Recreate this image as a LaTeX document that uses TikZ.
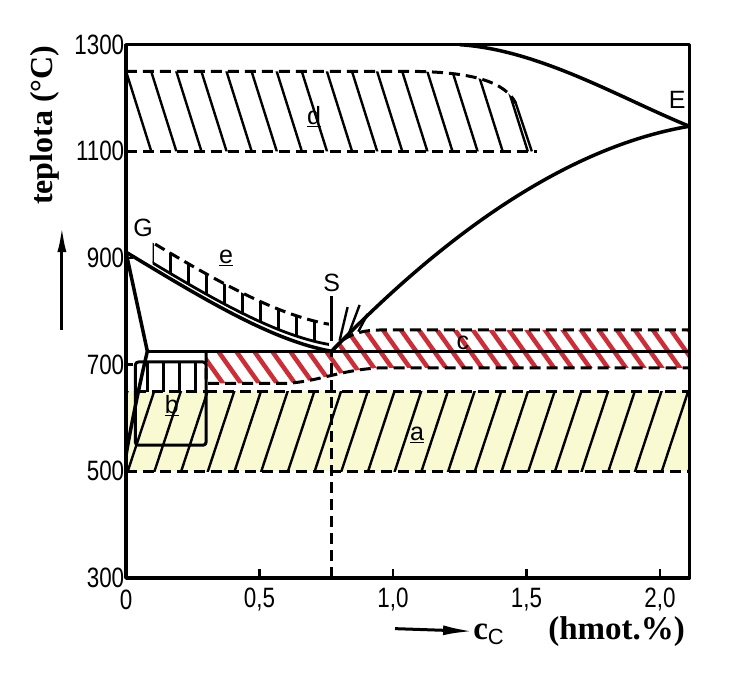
\documentclass[tikz,border=0pt]{standalone}
\usepackage{fontspec}
\setmainfont{Liberation Serif}
\setsansfont{Liberation Sans}
\usepackage{graphicx}
\usetikzlibrary{arrows.meta}

\definecolor{hatchred}{RGB}{205,45,55}
\definecolor{zoneyellow}{RGB}{250,250,210}
\newcommand{\narrownum}[1]{\scalebox{0.8}[1]{#1}}

\begin{document}
\begin{tikzpicture}[
    x = 267pt,
    y = 0.5333pt,
    line join = round,
    axisline/.style = {
        line width = 3.5pt
    },
    phaseline/.style = {
        line width = 3.5pt
    },
    zoneedge/.style = {
        dash pattern = on 11pt off 6pt,
        line width = 3pt
    },
    hatchline/.style = {
        line width = 2.4pt
    },
    redhatch/.style = {
        line width = 4.5pt,
        draw = hatchred
    },
    ticklabel/.style = {
        font = \sffamily\fontsize{28}{28}\selectfont,
        inner sep = 0pt
    },
    pointlabel/.style = {
        font = \sffamily\fontsize{25}{25}\selectfont,
        inner sep = 1pt
    },
    axislabel/.style = {
        font = \bfseries\fontsize{32}{32}\selectfont,
        inner sep = 0pt
    },
    axisarrow/.style = {
        -{Latex[length = 30pt, width = 10pt]},
        line width = 3pt
    }
]
    \useasboundingbox (-0.4719,84.4) rectangle (2.3221,1383.8);

    % zone a (yellow band)
    \fill [zoneyellow] (0,500) rectangle (2.11,650);
    \begin{scope}
        \clip (0,500) rectangle (2.11,650);
        \foreach \xa in {-0.1,0.0,...,2.2}
            \draw [hatchline] (\xa,490) -- ++(0.112,170);
    \end{scope}
    \draw [zoneedge] (0,500) -- (2.11,500);
    \draw [zoneedge] (0.30,650) -- (2.11,650);

    % zone c (red band)
    \begin{scope}
        \clip (0.30,665) -- (0.60,665) .. controls (0.72,668) and (0.80,690) .. (0.95,694)
            -- (2.11,694) -- (2.11,765) -- (0.95,765)
            .. controls (0.85,765) and (0.80,745) .. (0.77,725) -- (0.30,725) -- cycle;
        \foreach \xc in {0.2,0.2674,...,2.2}
            \draw [redhatch] (\xc,780) -- ++(0.213,-150);
    \end{scope}
    \draw [zoneedge] (0.30,725) -- (0.30,665) -- (0.60,665)
        .. controls (0.72,668) and (0.80,690) .. (0.95,694) -- (2.11,694);
    \draw [zoneedge] (0.77,725) .. controls (0.80,745) and (0.85,765) .. (0.95,765) -- (2.11,765);

    % zone d
    \begin{scope}
        \clip (0,1100) -- (0,1250) -- (1.05,1250)
            .. controls (1.30,1250) and (1.42,1230) .. (1.46,1190) -- (1.52,1100) -- cycle;
        \foreach \xd in {-0.1,-0.006,...,1.6}
            \draw [hatchline] (\xd,1260) -- ++(0.107,-170);
    \end{scope}
    \draw [zoneedge] (0,1250) -- (1.05,1250) .. controls (1.30,1250) and (1.42,1230) .. (1.46,1190);
    \draw [zoneedge] (0,1100) -- (1.54,1100);
    \draw [hatchline] (1.46,1190) -- (1.52,1100);

    % zone e (above GS)
    \begin{scope}
        \clip (0.10,700) rectangle (0.76,1000);
        \begin{scope}
            \clip (0,959) .. controls (0.3,868) and (0.55,793) .. (0.77,775)
                -- (0.77,737) .. controls (0.55,755) and (0.3,830) .. (0,921) -- cycle;
            \foreach \xe in {0.10,0.1674,...,0.8}
                \draw [hatchline] (\xe,700) -- (\xe,1000);
        \end{scope}
        \draw [zoneedge] (0,959) .. controls (0.3,868) and (0.55,793) .. (0.77,775);
        \draw [phaseline, line width = 2.8pt] (0,921) .. controls (0.3,830) and (0.55,755) .. (0.77,737);
    \end{scope}

    % zone b (small box)
    \begin{scope}
        \clip (0.035,650) rectangle (0.30,705);
        \foreach \xb in {0.08,0.14,...,0.30}
            \draw [hatchline] (\xb,640) -- (\xb,710);
    \end{scope}
    \draw [hatchline, line width = 3pt, rounded corners = 3pt] (0.035,549) rectangle (0.30,705);
    \draw [zoneedge] (0.035,650) -- (0.30,650);

    % small hatch above S
    \draw [hatchline] (0.80,745) -- (0.83,808);
    \draw [hatchline] (0.83,752) -- (0.875,812);
    \draw [hatchline] (0.87,762) -- (0.905,795);

    % frame and ticks
    \draw [axisline] (0,300) rectangle (2.11,1300);
    \foreach \T in {500,700,900,1100}
        \draw [line width = 2.5pt] (0,\T) -- ++(0.025,0);
    \foreach \C in {0.5,1.0,1.5,2.0}
        \draw [line width = 2.5pt] (\C,300) -- ++(0,16);

    % phase boundaries
    \draw [phaseline] (1.25,1300) .. controls (1.55,1290) and (1.85,1200) .. (2.11,1147);
    \draw [phaseline] (0.77,725) .. controls (1.05,870) and (1.55,1100) .. (2.11,1147);
    \draw [phaseline] (0,911) .. controls (0.3,820) and (0.55,745) .. (0.77,725);
    \draw [phaseline] (0,911) -- (0.08,725);
    \draw [phaseline] (0.08,725) .. controls (0.04,640) and (0.01,560) .. (0,530);
    \draw [phaseline] (0.08,725) -- (2.11,725);
    \draw [zoneedge, line width = 2.5pt] (0.77,300) -- (0.77,725);
    \draw [hatchline] (0.77,745) -- (0.77,828);

    % tick labels
    \foreach \T in {300,500,...,1300}
        \node [ticklabel, anchor = east] (ty\T) at (-0.006,\T) {\narrownum{\T}};
    \node [ticklabel] (tx0) at (0,259) {\narrownum{0}};
    \node [ticklabel] (tx05) at (0.5,259) {\narrownum{0,5}};
    \node [ticklabel] (tx10) at (1.0,259) {\narrownum{1,0}};
    \node [ticklabel] (tx15) at (1.5,259) {\narrownum{1,5}};
    \node [ticklabel] (tx20) at (2.0,259) {\narrownum{2,0}};

    % point and zone labels
    \node [pointlabel] (ptG) at (0.064,956) {G};
    \node [pointlabel] (ptE) at (2.064,1196) {E};
    \node [pointlabel] (ptS) at (0.77,853) {S};
    \node [pointlabel] (zd) at (0.704,1166) {\underline{d}};
    \node [pointlabel] (ze) at (0.375,900) {\underline{e}};
    \node [pointlabel] (za) at (1.09,568) {\underline{a}};
    \node [pointlabel] (zb) at (0.172,624) {\underline{b}};
    \node [pointlabel] (zc) at (1.262,741) {c};

    % axis titles
    \node [axislabel, rotate = 90] (ylab) at (-0.303,1149) {teplota (°C)};
    \coordinate (ytail) at (-0.24,765);
    \coordinate (ytip) at (-0.24,960);
    \draw [axisarrow, -{Latex[length = 26pt, width = 9pt]}] (ytail) -- (ytip);

    \node [axislabel, font = \bfseries\fontsize{33}{33}\selectfont, anchor = west] (xlab) at (1.30,200)
        {c\raisebox{-0.35ex}{\sffamily\mdseries\fontsize{22}{22}\selectfont C}\hspace{1.35em}(hmot.\%)};
    \coordinate (xtail) at (1.0075,205);
    \draw [axisarrow] (xtail) -- (xlab.west);
\end{tikzpicture}
\end{document}
